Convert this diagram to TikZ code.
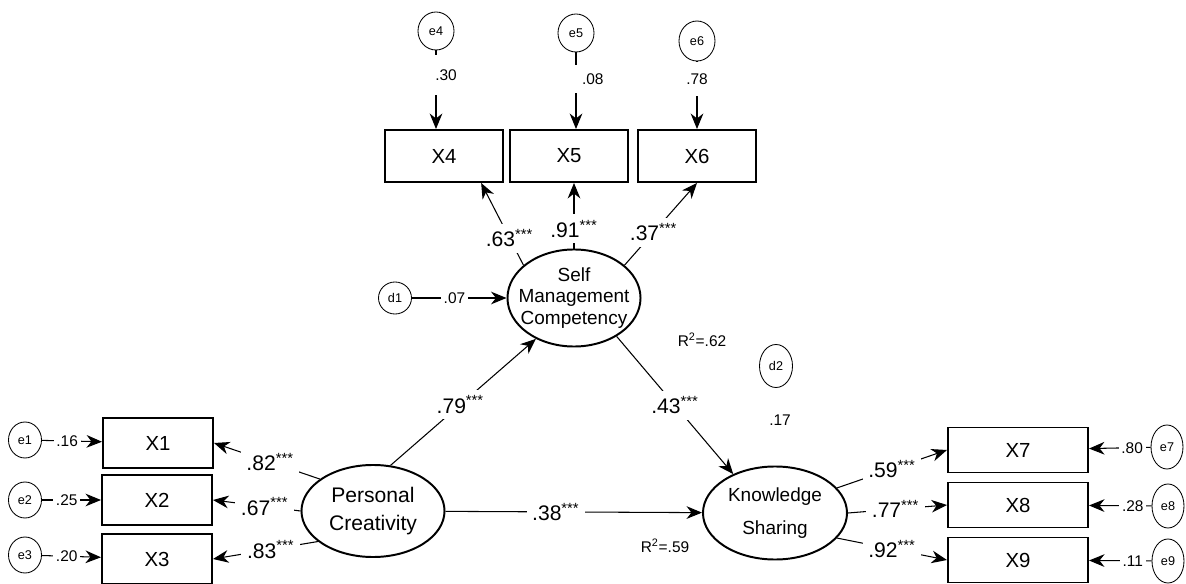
\documentclass[tikz,border=0pt]{standalone}
\usepackage{fontspec}
\setmainfont{Liberation Sans}
\usetikzlibrary{shapes.geometric, arrows.meta, positioning, calc}

\begin{document}
\begin{tikzpicture}[x=0.025cm, y=-0.025cm,
    obs/.style={rectangle, draw, line width=1.4pt, font=\fontsize{14.5}{16}\selectfont},
    obsl/.style={obs, minimum width=2.75cm, minimum height=1.25cm},
    obst/.style={obs, minimum width=2.95cm, minimum height=1.3cm},
    obsr/.style={obs, minimum width=3.5cm, minimum height=1.125cm},
    lat/.style={ellipse, draw, line width=1.4pt, inner sep=0pt},
    err/.style={ellipse, draw, line width=0.6pt, inner sep=0pt, minimum width=0.825cm, minimum height=0.9cm, font=\fontsize{9}{10}\selectfont},
    arr/.style={-{Stealth[length=11pt, width=9pt, inset=3.5pt]}, line width=0.75pt},
    coef/.style={fill=white, inner sep=4pt, font=\fontsize{15}{17}\selectfont},
    errlab/.style={fill=white, inner sep=2pt, font=\fontsize{11}{13}\selectfont},
    note/.style={font=\fontsize{11}{13}\selectfont}]
    \useasboundingbox (0,0) rectangle (1186,584);

    % Latent variables
    \node [lat, minimum width=3.325cm, minimum height=2.425cm,
        label={[align=center, font=\fontsize{13.5}{15}\selectfont]center:Self\\Management\\Competency}] (smc) at (574,298) {};
    \node [lat, minimum width=3.575cm, minimum height=2.3cm,
        label={[align=center, font=\fontsize{15}{20.5}\selectfont]center:Personal\\Creativity}] (pc) at (373,511) {};
    \node [lat, minimum width=3.6cm, minimum height=2.325cm,
        label={[align=center, font=\fontsize{13.5}{23.5}\selectfont]center:Knowledge\\Sharing}] (ks) at (775,513) {};

    % Indicators
    \node [obsl] (x1) at (158,443) {X1};
    \node [obsl] (x2) at (157,500) {X2};
    \node [obsl] (x3) at (157,559) {X3};
    \node [obst] (x4) at (444,156) {X4};
    \node [obst] (x5) at (569,156) {X5};
    \node [obst] (x6) at (697,156) {X6};
    \node [obsr] (x7) at (1018,450) {X7};
    \node [obsr] (x8) at (1018,505) {X8};
    \node [obsr] (x9) at (1018,560) {X9};

    % Error terms
    \node [err] (e1) at (25,440) {e1};
    \node [err] (e2) at (25,500) {e2};
    \node [err] (e3) at (25,555) {e3};
    \node [err, minimum width=0.9cm, minimum height=0.95cm] (e4) at (436,31) {e4};
    \node [err, minimum width=0.9cm, minimum height=0.95cm] (e5) at (576,33) {e5};
    \node [err, minimum width=0.9cm, minimum height=1.0cm] (e6) at (697,41) {e6};
    \node [err, minimum width=0.8cm, minimum height=1.1cm] (e7) at (1167,447) {e7};
    \node [err, minimum width=0.8cm, minimum height=1.1cm] (e8) at (1168,506) {e8};
    \node [err, minimum width=0.8cm, minimum height=1.1cm] (e9) at (1168,561) {e9};
    \node [err, minimum height=0.8cm] (d1) at (395,298) {d1};
    \node [err, minimum height=1.075cm] (d2) at (776,366) {d2};

    % Other texts
    \node [note] (r2smc) at (702,340) {R\textsuperscript{2}=.62};
    \node [note] (vard2) at (780,420) {.17};
    \node [note] (r2ks) at (665,546) {R\textsuperscript{2}=.59};

    % Error paths
    \draw[arr] (e1) -- (x1) node[errlab, pos=0.42] {.16};
    \draw[arr] (e2) -- (x2) node[errlab, pos=0.42] {.25};
    \draw[arr] (e3) -- (x3) node[errlab, pos=0.42] {.20};
    \draw[arr] (e4) -- (e4 |- x4.north) node[errlab, pos=0.31, minimum height=1cm, xshift=0.25cm] {.30};
    \draw[arr] (e5) -- (e5 |- x5.north) node[errlab, pos=0.35, minimum height=0.7cm, inner xsep=6pt, xshift=0.42cm] {.08};
    \draw[arr] (e6) -- (e6 |- x6.north) node[errlab, pos=0.26, minimum height=0.85cm] {.78};
    \draw[arr] (e7) -- (x7) node[errlab, pos=0.3] {.80};
    \draw[arr] (e8) -- (x8) node[errlab, pos=0.3] {.28};
    \draw[arr] (e9) -- (x9) node[errlab, pos=0.3] {.11};
    \draw[arr] (d1) -- (smc) node[errlab, pos=0.45] {.07};

    % Structural paths
    \draw[arr] (pc.69) -- (smc.227) node[coef, pos=0.48] {.79\textsuperscript{***}};
    \draw[arr] (pc) -- (ks) node[coef, pos=0.43] {.38\textsuperscript{***}};
    \draw[arr] (smc.318) -- (ks.137) node[coef, pos=0.5] {.43\textsuperscript{***}};

    % Loadings
    \draw[arr] (pc.149) -- (x1.east) node[coef, pos=0.47] {.82\textsuperscript{***}};
    \draw[arr] (pc.west) -- (x2.east) node[coef, pos=0.41] {.67\textsuperscript{***}};
    \draw[arr] (pc.209) -- (x3.east) node[coef, pos=0.45] {.83\textsuperscript{***}};
    \draw[arr] (smc.147) -- (x4.-36) node[coef, pos=0.33] {.63\textsuperscript{***}};
    \draw[arr] (smc.north) -- (smc.north |- x5.south) node[coef, pos=0.3] {.91\textsuperscript{***}};
    \draw[arr] (smc.33) -- (x6.south) node[coef, pos=0.4] {.37\textsuperscript{***}};
    \draw[arr] (ks.22) -- (x7.west) node[coef, pos=0.5] {.59\textsuperscript{***}};
    \draw[arr] (ks.east) -- (x8.west) node[coef, pos=0.48] {.77\textsuperscript{***}};
    \draw[arr] (ks.-22) -- (x9.west) node[coef, pos=0.5] {.92\textsuperscript{***}};
\end{tikzpicture}
\end{document}
